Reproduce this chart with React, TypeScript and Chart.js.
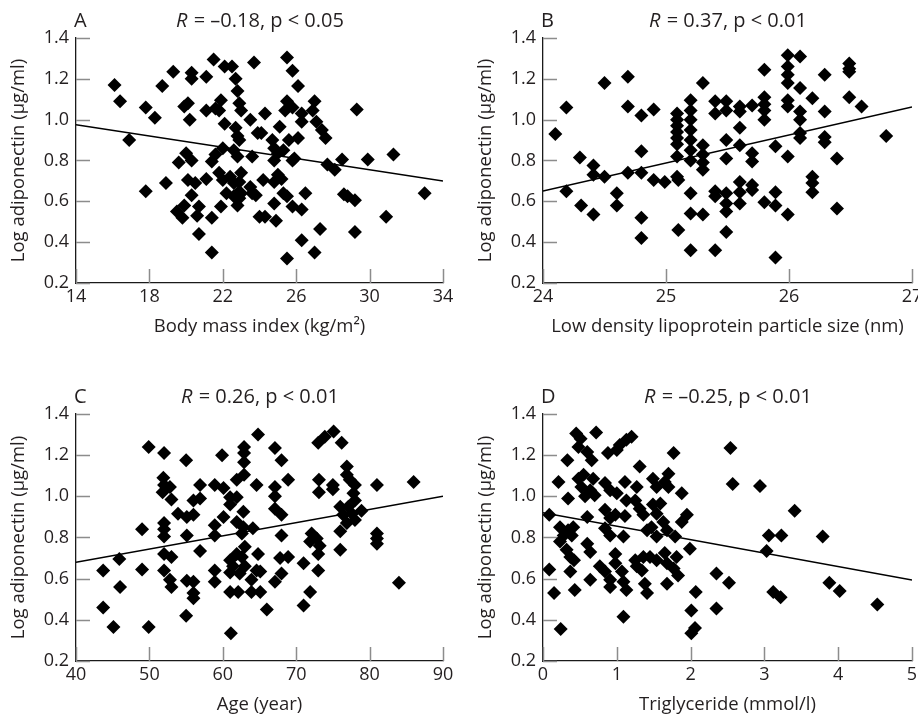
import React, { useEffect, useRef } from "react";
import { Chart, registerables } from "chart.js";

Chart.register(...registerables);

const FONT = "'Open Sans', 'Noto Sans', sans-serif";
const TEXT = "#231f20";

// ---------- Data ----------
const bmiPoints: [number, number][] = [
  [16.1, 1.17], [16.4, 1.09], [16.9, 0.9], [17.8, 1.06], [18.3, 1.01], [17.8, 0.65], [18.7, 1.165],
  [19.3, 1.235], [18.9, 0.69], [19.6, 0.79], [20.0, 0.835], [20.3, 0.8], [19.9, 1.065], [20.1, 1.08],
  [20.2, 1.0], [20.3, 1.23], [20.3, 1.2], [21.1, 1.21], [20.1, 0.705], [20.5, 0.69], [20.3, 0.63],
  [19.5, 0.55], [19.8, 0.52], [19.9, 0.58], [20.7, 0.575], [20.6, 0.53], [20.7, 0.44], [21.4, 0.35],
  [21.4, 0.52], [21.1, 0.71], [21.4, 0.795], [21.6, 0.83], [22.0, 0.86], [21.5, 1.295], [21.1, 1.045],
  [21.6, 1.055], [21.9, 1.095], [21.8, 1.045], [22.1, 0.98], [22.1, 1.26], [22.5, 1.26], [22.7, 1.2],
  [22.8, 1.14], [22.9, 1.08], [23.0, 1.045], [23.5, 1.0], [23.7, 1.28], [22.7, 0.96], [22.8, 0.92],
  [22.9, 0.9], [23.9, 0.935], [22.6, 0.85], [22.8, 0.82], [23.6, 0.82], [21.8, 0.74], [22.0, 0.705],
  [22.4, 0.72], [22.6, 0.69], [22.9, 0.695], [23.0, 0.74], [22.2, 0.64], [22.8, 0.64], [22.6, 0.625],
  [22.9, 0.615], [23.0, 0.64], [23.5, 0.67], [23.6, 0.64], [21.9, 0.575], [22.8, 0.58], [24.0, 0.525],
  [25.5, 1.305], [25.8, 1.24], [26.1, 1.165], [25.5, 1.09], [25.8, 1.06], [25.4, 1.045], [26.3, 1.03],
  [27.0, 1.09], [26.9, 1.045], [26.3, 0.99], [27.1, 0.99], [27.4, 0.95], [27.6, 0.91], [29.3, 1.05],
  [24.3, 1.03], [24.1, 0.935], [25.1, 0.965], [25.6, 0.9], [26.1, 0.91], [24.7, 0.9], [24.8, 0.86],
  [25.0, 0.835], [25.3, 0.85], [24.8, 0.8], [25.8, 0.8], [25.9, 0.81], [27.7, 0.78], [28.1, 0.755],
  [28.5, 0.805], [29.9, 0.805], [31.3, 0.83], [33.0, 0.64], [24.2, 0.705], [25.0, 0.73], [25.2, 0.71],
  [24.8, 0.695], [23.8, 0.63], [25.3, 0.64], [25.5, 0.625], [26.5, 0.64], [24.8, 0.59], [25.8, 0.575],
  [26.3, 0.56], [24.3, 0.525], [24.9, 0.505], [28.6, 0.635], [28.8, 0.625], [29.2, 0.605], [30.9, 0.525],
  [27.3, 0.465], [29.2, 0.45], [26.3, 0.41], [27.0, 0.35], [25.5, 0.32],
];
const bmiLine: [number, number][] = [[14, 0.975], [34, 0.7]];
const bmiTicks = [14, 18, 22, 26, 30, 34];

const ldlPoints: [number, number][] = [
  [24.1, 0.93], [24.19, 1.06], [24.19, 0.65], [24.3, 0.815], [24.31, 0.58], [24.41, 0.535], [24.41, 0.775],
  [24.41, 0.73], [24.5, 0.72], [24.5, 1.18], [24.6, 0.64], [24.6, 0.58], [24.69, 1.21], [24.69, 1.065],
  [24.69, 0.74], [24.8, 1.02], [24.9, 1.05], [24.8, 0.845], [24.8, 0.74], [24.8, 0.52], [24.8, 0.42],
  [24.9, 0.705], [24.99, 0.695], [25.09, 0.72], [25.1, 0.705], [25.1, 0.46], [25.09, 0.82],
  [25.09, 1.03], [25.09, 1.0], [25.09, 0.97], [25.09, 0.94], [25.09, 0.91], [25.09, 0.88],
  [25.2, 1.095], [25.2, 1.045], [25.2, 1.0], [25.2, 0.95], [25.2, 0.9], [25.2, 0.85], [25.2, 0.8],
  [25.2, 0.64], [25.2, 0.54], [25.2, 0.36],
  [25.3, 1.18], [25.3, 0.875], [25.3, 0.83], [25.3, 0.79], [25.3, 0.755], [25.3, 0.535],
  [25.4, 1.09], [25.4, 1.03], [25.4, 0.65], [25.4, 0.625], [25.4, 0.36],
  [25.49, 1.09], [25.49, 1.045], [25.49, 0.9], [25.49, 0.81], [25.49, 0.64], [25.49, 0.59], [25.49, 0.55], [25.49, 0.45],
  [25.6, 1.065], [25.6, 1.04], [25.6, 0.96], [25.6, 0.875], [25.6, 0.695], [25.6, 0.645], [25.6, 0.59],
  [25.7, 1.07], [25.7, 0.835], [25.7, 0.795], [25.7, 0.68], [25.7, 0.655],
  [25.8, 1.245], [25.8, 1.11], [25.8, 1.075], [25.8, 1.045], [25.8, 1.0], [25.8, 0.595],
  [25.89, 0.87], [25.89, 0.645], [25.89, 0.58], [25.89, 0.325],
  [25.99, 0.82], [25.99, 1.315], [25.99, 1.26], [25.99, 1.22], [25.99, 1.18], [25.99, 1.095], [25.99, 1.065], [25.99, 0.535],
  [26.09, 1.31], [26.09, 1.155], [26.09, 1.04], [26.09, 1.0], [26.09, 0.935], [26.09, 0.91],
  [26.19, 1.105], [26.19, 0.72], [26.19, 0.69], [26.19, 0.645],
  [26.29, 1.22], [26.29, 1.04], [26.29, 0.915], [26.29, 0.89],
  [26.39, 0.81], [26.39, 0.565],
  [26.49, 1.275], [26.49, 1.25], [26.49, 1.235], [26.49, 1.11],
  [26.59, 1.065], [26.79, 0.92],
];
const ldlLine: [number, number][] = [[24, 0.65], [27, 1.062]];
const ldlTicks = [24, 25, 26, 27];

const agePoints: [number, number][] = [
  [43.7, 0.64], [43.7, 0.46], [45.1, 0.365], [45.9, 0.695], [46.0, 0.56], [49.0, 0.84], [49.0, 0.645],
  [49.9, 1.24], [49.9, 0.365], [52.0, 1.21], [51.9, 1.09], [52.0, 1.055], [52.8, 1.045], [53.0, 0.985],
  [51.8, 1.02], [52.0, 0.87], [52.0, 0.84], [52.0, 0.805], [52.0, 0.72], [53.0, 0.705], [52.0, 0.64],
  [52.8, 0.595], [53.0, 0.56], [55.0, 1.175], [55.0, 0.42], [53.9, 0.915], [55.1, 0.9], [56.0, 0.91],
  [55.1, 0.81], [56.0, 0.98], [56.9, 0.99], [56.9, 1.055], [56.9, 0.735], [55.1, 0.59], [56.0, 0.585],
  [56.0, 0.53], [56.0, 0.505], [58.9, 1.055], [60.1, 1.04], [59.9, 1.2], [58.9, 0.86], [60.1, 0.9],
  [58.9, 0.81], [58.9, 0.64], [58.9, 0.585], [61.1, 0.335], [61.0, 0.995], [61.9, 0.995], [61.0, 0.96],
  [61.9, 1.08], [62.9, 1.105], [62.9, 1.24], [62.9, 1.21], [62.9, 1.165], [61.9, 0.875], [62.8, 0.925],
  [62.8, 0.85], [64.1, 0.845], [62.6, 0.82], [61.0, 0.69], [61.4, 0.66], [61.9, 0.72], [62.6, 0.705],
  [63.0, 0.755], [61.0, 0.63], [62.3, 0.625], [63.0, 0.66], [61.0, 0.535], [62.1, 0.535], [63.9, 0.595],
  [63.9, 0.535], [64.6, 0.64], [64.8, 0.72], [64.8, 1.3], [64.6, 1.055], [67.1, 1.235], [68.0, 1.175],
  [67.1, 1.045], [68.9, 1.08], [67.1, 1.0], [67.1, 0.94], [68.0, 0.91], [68.0, 0.81], [67.8, 0.7],
  [68.9, 0.705], [71.0, 0.675], [73.0, 0.72], [73.0, 0.64], [68.0, 0.625], [67.1, 0.585], [65.1, 0.635],
  [65.1, 0.535], [71.9, 0.535], [66.0, 0.45], [71.0, 0.47], [73.0, 1.26], [73.9, 1.29], [75.1, 1.315],
  [76.2, 1.26], [73.1, 1.08], [73.1, 1.02], [75.0, 1.055], [75.0, 1.035], [76.9, 1.145], [76.9, 1.105],
  [77.3, 1.08], [78.0, 1.055], [77.8, 1.015], [78.0, 0.98], [76.0, 0.95], [77.1, 0.95], [76.4, 0.91],
  [77.6, 0.915], [78.9, 0.93], [78.0, 0.885], [76.9, 0.87], [76.0, 0.83], [81.0, 1.055], [86.0, 1.07],
  [81.0, 0.82], [81.0, 0.77], [81.0, 0.795], [76.0, 0.74], [84.0, 0.58], [72.1, 0.82], [72.8, 0.795],
  [71.9, 0.78], [73.2, 0.76],
];
const ageLine: [number, number][] = [[40, 0.68], [90, 1.0]];
const ageTicks = [40, 50, 60, 70, 80, 90];

const tgPoints: [number, number][] = [
  [0.085, 0.91], [0.085, 0.645], [0.15, 0.53], [0.24, 0.355], [0.21, 1.07], [0.33, 1.175], [0.34, 0.99],
  [0.23, 0.85], [0.28, 0.81], [0.23, 0.78], [0.34, 0.835], [0.41, 0.85], [0.39, 0.81], [0.32, 0.74],
  [0.37, 0.705], [0.42, 0.69], [0.37, 0.635], [0.43, 0.545], [0.45, 1.305], [0.48, 1.24], [0.51, 1.28],
  [0.72, 1.31], [0.6, 1.215], [0.66, 1.175], [0.48, 1.085], [0.52, 1.045], [0.55, 1.105], [0.57, 1.0],
  [0.64, 1.03], [0.68, 1.085], [0.7, 1.005], [0.6, 0.9], [0.6, 0.77], [0.64, 0.73], [0.64, 0.595],
  [0.84, 1.065], [0.88, 1.21], [1.0, 1.225], [1.13, 1.275], [1.2, 1.29], [1.04, 1.25], [0.91, 1.03],
  [1.0, 1.015], [0.84, 0.935], [0.91, 0.895], [0.84, 0.845], [0.91, 0.81], [0.98, 0.91], [1.11, 1.07],
  [1.13, 0.98], [1.11, 0.905], [1.09, 0.805], [0.77, 0.66], [0.84, 0.635], [0.91, 0.595], [0.91, 0.56],
  [0.98, 0.675], [1.07, 0.635], [1.09, 0.585], [1.13, 0.545], [0.98, 0.72], [1.09, 0.415], [1.31, 1.145],
  [1.27, 1.045], [1.25, 0.98], [1.31, 0.94], [1.36, 0.91], [1.41, 0.835], [1.27, 0.66], [1.34, 0.64],
  [1.25, 0.69], [1.36, 0.705], [1.38, 0.575], [1.41, 0.53], [1.49, 1.085], [1.54, 1.045], [1.7, 1.11],
  [1.65, 1.07], [1.7, 1.045], [1.49, 0.96], [1.59, 0.965], [1.54, 0.915], [1.63, 0.875], [1.47, 0.85],
  [1.54, 0.805], [1.68, 0.835], [1.77, 1.21], [1.88, 1.015], [1.95, 0.91], [1.88, 0.875], [1.79, 0.805],
  [1.99, 0.745], [1.45, 0.705], [1.54, 0.69], [1.65, 0.725], [1.68, 0.675], [1.81, 0.705], [1.77, 0.65],
  [1.83, 0.615], [1.68, 0.575], [2.07, 0.535], [2.01, 0.445], [2.06, 0.36], [2.01, 0.335], [2.54, 1.235],
  [2.57, 1.06], [2.94, 1.05], [3.41, 0.93], [3.06, 0.81], [3.23, 0.81], [3.79, 0.805], [3.03, 0.735],
  [2.35, 0.625], [2.52, 0.58], [3.12, 0.535], [3.22, 0.51], [3.88, 0.58], [4.02, 0.54], [4.53, 0.475],
  [2.35, 0.455],
];
const tgLine: [number, number][] = [[0, 0.92], [5, 0.593]];
const tgTicks = [0, 1, 2, 3, 4, 5];

const yTicks = [0.2, 0.4, 0.6, 0.8, 1.0, 1.2, 1.4];
const yTitle = "Log adiponectin (µg/ml)";

type PanelDef = {
  letter: string;
  rest: string;
  points: [number, number][];
  line: [number, number][];
  xTicks: number[];
  xTitle: string;
  left: number;
  top: number;
  width: number;
  height: number;
  padRight: number;
};

const panels: PanelDef[] = [
  { letter: "A", rest: " = –0.18, p < 0.05", points: bmiPoints, line: bmiLine, xTicks: bmiTicks,
    xTitle: "Body mass index (kg/m²)", left: 0, top: 0, width: 459, height: 340, padRight: 16 },
  { letter: "B", rest: " = 0.37, p < 0.01", points: ldlPoints, line: ldlLine, xTicks: ldlTicks,
    xTitle: "Low density lipoprotein particle size (nm)", left: 467, top: 0, width: 470, height: 340, padRight: 25 },
  { letter: "C", rest: " = 0.26, p < 0.01", points: agePoints, line: ageLine, xTicks: ageTicks,
    xTitle: "Age (year)", left: 0, top: 376, width: 459, height: 342, padRight: 16 },
  { letter: "D", rest: " = –0.25, p < 0.01", points: tgPoints, line: tgLine, xTicks: tgTicks,
    xTitle: "Triglyceride (mmol/l)", left: 467, top: 376, width: 470, height: 342, padRight: 25 },
];

const TICK_SIZE = 18;
const AXIS_TITLE_SIZE = 18.5;
const PANEL_TITLE_SIZE = 20;

const inwardTicks = {
  id: "inwardTicks",
  beforeDatasetsDraw(chart: any) {
    const { ctx, chartArea, scales } = chart;
    const x = scales.x;
    const y = scales.y;
    ctx.save();
    ctx.strokeStyle = "#8c8c8c";
    ctx.lineWidth = 1.5;
    ctx.beginPath();
    x.ticks.forEach((t: any) => {
      const px = Math.round(x.getPixelForValue(t.value)) + 0.5;
      ctx.moveTo(px, chartArea.bottom);
      ctx.lineTo(px, chartArea.bottom - 14);
    });
    y.ticks.forEach((t: any) => {
      const py = Math.round(y.getPixelForValue(t.value)) + 0.5;
      ctx.moveTo(chartArea.left, py);
      ctx.lineTo(chartArea.left + 14, py);
    });
    ctx.stroke();
    ctx.restore();
  },
};

const panelTitle = {
  id: "panelTitle",
  afterDraw(chart: any, _args: any, opts: any) {
    const { ctx, chartArea } = chart;
    const ty = chartArea.top - 17;
    ctx.save();
    ctx.fillStyle = TEXT;
    ctx.textBaseline = "middle";
    ctx.textAlign = "left";
    const normal = `${PANEL_TITLE_SIZE}px ${FONT}`;
    const italic = `italic ${PANEL_TITLE_SIZE}px ${FONT}`;
    ctx.font = normal;
    ctx.fillText(opts.letter, chartArea.left - 2, ty);
    ctx.font = italic;
    const w1 = ctx.measureText("R").width;
    ctx.font = normal;
    const w2 = ctx.measureText(opts.rest).width;
    const cx = (chartArea.left + chartArea.right) / 2;
    const sx = cx - (w1 + w2) / 2;
    ctx.font = italic;
    ctx.fillText("R", sx, ty);
    ctx.font = normal;
    ctx.fillText(opts.rest, sx + w1 + 1, ty);
    ctx.restore();
  },
};

function PanelChart({ p }: { p: PanelDef }) {
  const ref = useRef<HTMLCanvasElement | null>(null);
  useEffect(() => {
    if (!ref.current) return;
    const xMin = p.xTicks[0];
    const xMax = p.xTicks[p.xTicks.length - 1];
    const chart = new Chart(ref.current, {
      type: "scatter",
      data: {
        datasets: [
          {
            type: "scatter",
            data: p.points.map(([x, y]) => ({ x, y })),
            pointStyle: "rectRot",
            pointRadius: 7,
            pointHoverRadius: 7,
            backgroundColor: "#000",
            borderColor: "#000",
            borderWidth: 0,
          } as any,
          {
            type: "line",
            data: p.line.map(([x, y]) => ({ x, y })),
            borderColor: "#000",
            borderWidth: 1.5,
            pointRadius: 0,
            fill: false,
            tension: 0,
          } as any,
        ],
      },
      options: {
        responsive: false,
        animation: false,
        devicePixelRatio: 1,
        layout: { padding: { top: 38, right: p.padRight, bottom: 0, left: 0 } },
        plugins: {
          legend: { display: false },
          tooltip: { enabled: false },
          panelTitle: { letter: p.letter, rest: p.rest },
        } as any,
        scales: {
          x: {
            type: "linear",
            min: xMin,
            max: xMax,
            afterBuildTicks: (s: any) => {
              s.ticks = p.xTicks.map((v) => ({ value: v }));
            },
            afterFit: (s: any) => {
              s.height = 57;
            },
            ticks: {
              color: TEXT,
              font: { family: FONT, size: TICK_SIZE },
              padding: 3,
              maxRotation: 0,
              autoSkip: false,
              callback: (v: any) => String(v),
            },
            grid: { display: false, drawTicks: false },
            border: { display: true, color: "#1a1a1a", width: 1.3 },
            title: {
              display: true,
              text: p.xTitle,
              color: TEXT,
              font: { family: FONT, size: AXIS_TITLE_SIZE },
              padding: { top: 0, bottom: 2 },
            },
          },
          y: {
            type: "linear",
            min: yTicks[0],
            max: yTicks[yTicks.length - 1],
            afterBuildTicks: (s: any) => {
              s.ticks = yTicks.map((v) => ({ value: v }));
            },
            afterFit: (s: any) => {
              s.width = 76;
            },
            ticks: {
              color: TEXT,
              font: { family: FONT, size: TICK_SIZE },
              padding: 7,
              autoSkip: false,
              callback: (v: any) => Number(v).toFixed(1),
            },
            grid: { display: false, drawTicks: false },
            border: { display: true, color: "#1a1a1a", width: 1.3 },
            title: {
              display: true,
              text: yTitle,
              color: TEXT,
              font: { family: FONT, size: AXIS_TITLE_SIZE },
              padding: { top: 8, bottom: 0 },
            },
          },
        },
      } as any,
      plugins: [inwardTicks, panelTitle],
    });
    return () => chart.destroy();
  }, [p]);
  return (
    <canvas
      ref={ref}
      width={p.width}
      height={p.height}
      style={{ position: "absolute", left: p.left, top: p.top, width: p.width, height: p.height }}
    />
  );
}

export default function App() {
  return (
    <div
      style={{
        position: "fixed",
        left: 0,
        top: 0,
        width: 918,
        height: 718,
        overflow: "hidden",
        background: "#fff",
      }}
    >
      {panels.map((p) => (
        <PanelChart key={p.letter} p={p} />
      ))}
    </div>
  );
}
